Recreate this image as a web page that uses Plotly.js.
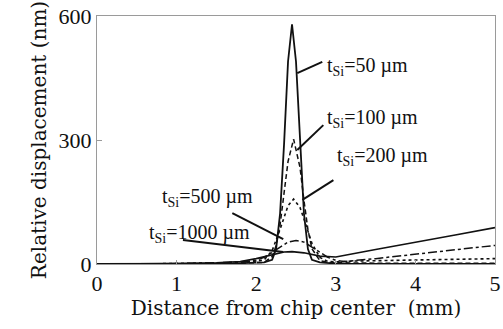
<!DOCTYPE html>
<html>
<head>
<meta charset="utf-8">
<script src="https://cdn.plot.ly/plotly-3.0.1.min.js"></script>
<style>
html,body{margin:0;padding:0;background:#fff;}
.warm{position:absolute;left:200px;top:100px;z-index:0;color:#fff;font-size:2px;line-height:2px;}
#chart{position:relative;z-index:1;}
</style>
</head>
<body>
<div class="warm" aria-hidden="true"><span style="font-family:'Liberation Serif'">.</span><span style="font-family:'DejaVu Serif'">.</span></div>
<div id="chart"></div>
<script>
// Distance from chip center (mm) and relative displacement (nm) per Si thickness
const x50   = [0, 0.5, 1.0, 1.5, 1.8, 2.0, 2.1, 2.2, 2.25, 2.3, 2.35, 2.4, 2.45, 2.5, 2.55, 2.6, 2.65, 2.7, 2.8, 2.9, 3.0, 3.2, 3.5, 4.0, 4.5, 5.0];
const y50   = [0, 0, 0, 1, 2, 3, 4, 10, 36, 122, 290, 490, 580, 490, 290, 122, 36, 10, 4, 2, 1, 0, 0, 0, 0, 0];

const x100  = [0, 0.5, 1.0, 1.5, 1.8, 2.0, 2.1, 2.2, 2.25, 2.3, 2.35, 2.4, 2.47, 2.55, 2.6, 2.65, 2.7, 2.8, 2.9, 3.0, 3.5, 4.0, 4.5, 5.0];
const y100  = [0, 0, 0, 1, 2, 3, 4, 18, 44, 95, 170, 248, 302, 234, 154, 83, 37, 8, 4, 3, 2, 2, 2, 2];

const x200  = [0, 0.5, 1.0, 1.5, 1.8, 2.0, 2.1, 2.2, 2.3, 2.35, 2.4, 2.47, 2.55, 2.6, 2.7, 2.8, 2.9, 3.0, 3.2, 3.5, 4.0, 4.5, 5.0];
const y200  = [0, 0, 1, 2, 4, 7, 10, 32, 84, 115, 141, 157, 137, 109, 50, 16, 6, 5, 7, 8, 10, 11, 13];

const x500  = [0, 0.5, 1.0, 1.5, 1.8, 2.0, 2.1, 2.2, 2.3, 2.4, 2.5, 2.6, 2.7, 2.8, 2.9, 3.0, 3.1, 3.5, 4.0, 4.5, 5.0];
const y500  = [0, 0, 1, 3, 5, 9, 16, 28, 41, 53, 57, 53, 41, 28, 16, 9, 6, 13, 24, 35, 45];

const x1000 = [0, 0.5, 1.0, 1.5, 1.8, 2.0, 2.2, 2.35, 2.45, 2.6, 2.8, 3.0, 3.5, 4.0, 4.5, 5.0];
const y1000 = [0, 0, 1, 3, 6, 13, 23, 29, 30, 27, 19, 17, 35, 52, 70, 88];

const seriesNames = ["t<sub>Si</sub>=50 µm", "t<sub>Si</sub>=100 µm", "t<sub>Si</sub>=200 µm", "t<sub>Si</sub>=500 µm", "t<sub>Si</sub>=1000 µm"];
const xTicks = [0, 1, 2, 3, 4, 5];
const yTicks = [0, 300, 600];

// label anchors: [text x, text y, leader start x, start y, leader end x, end y] in data units
const labelPos = [
  [2.87, 478, 2.83, 489, 2.516, 462],
  [2.87, 352, 2.843, 336, 2.516, 276],
  [2.99, 259, 2.97, 203, 2.58, 155],
  [0.79, 160, 1.70, 123, 2.34, 60],
  [0.63, 75, 1.08, 58, 2.34, 29]
];

const traces = [
  {x: x50, y: y50, dash: 'solid', w: 1.8},
  {x: x100, y: y100, dash: '5px,3px', w: 1.5},
  {x: x200, y: y200, dash: 'dot', w: 1.6},
  {x: x500, y: y500, dash: 'dashdot', w: 1.5},
  {x: x1000, y: y1000, dash: 'solid', w: 1.6}
].map((s, i) => ({
  type: 'scatter', mode: 'lines', x: s.x, y: s.y, name: seriesNames[i],
  line: {color: '#111111', width: s.w, dash: s.dash}, hoverinfo: 'skip'
}));

const annotations = labelPos.map((p, i) => ({
  x: p[0], y: p[1], xref: 'x', yref: 'y', text: seriesNames[i], showarrow: false,
  xanchor: 'left', yanchor: 'middle', font: {family: 'Liberation Serif', size: 20, color: '#111111'}
}));
const shapes = labelPos.map(p => ({
  type: 'line', xref: 'x', yref: 'y', x0: p[2], y0: p[3], x1: p[4], y1: p[5],
  line: {color: '#111111', width: 2}
}));

const layout = {
  width: 503, height: 329,
  font: {family: 'Liberation Serif', size: 20, color: '#111111'},
  margin: {l: 97, r: 8, t: 16, b: 65},
  paper_bgcolor: '#ffffff', plot_bgcolor: '#ffffff',
  showlegend: false,
  xaxis: {
    range: [0, 5], tickvals: xTicks, ticktext: xTicks.map(String),
    showline: true, mirror: true, linecolor: '#9a9a9a', linewidth: 1,
    ticks: 'inside', ticklen: 4, tickcolor: '#9a9a9a',
    showgrid: false, zeroline: false,
    tickfont: {family: 'Liberation Serif', size: 22, color: '#111111'},
    title: {text: 'Distance from chip center  (mm)', standoff: 4,
      font: {family: 'DejaVu Serif', size: 20, color: '#111111'}}
  },
  yaxis: {
    range: [0, 600], tickvals: yTicks, ticktext: yTicks.map(String),
    showline: true, mirror: true, linecolor: '#9a9a9a', linewidth: 1,
    ticks: 'inside', ticklen: 5, tickcolor: '#9a9a9a',
    showgrid: false, zeroline: false,
    tickfont: {family: 'Liberation Serif', size: 22, color: '#111111'},
    title: {text: 'Relative displacement (nm)', standoff: 6,
      font: {family: 'DejaVu Serif', size: 20, color: '#111111'}}
  },
  annotations: annotations,
  shapes: shapes
};

Plotly.newPlot('chart', traces, layout, {staticPlot: true, displayModeBar: false});
</script>
</body>
</html>
